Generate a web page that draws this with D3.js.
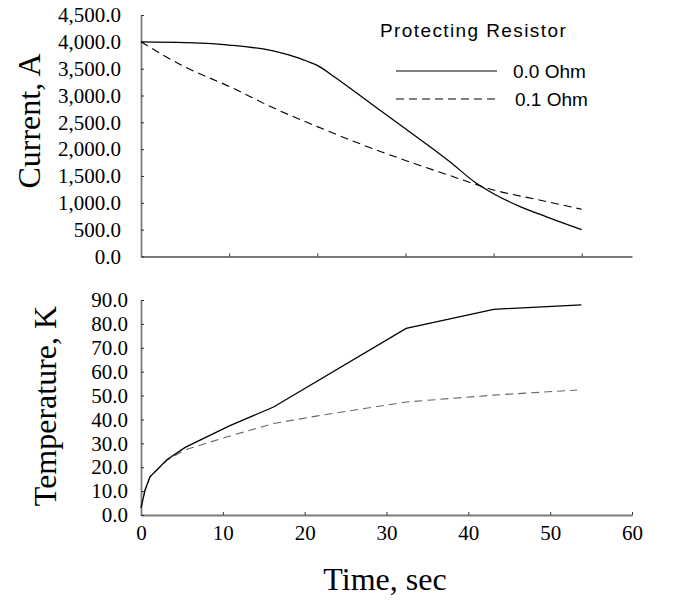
<!DOCTYPE html>
<html>
<head>
<meta charset="utf-8">
<script src="https://cdn.jsdelivr.net/npm/d3@7"></script>
<style>
  body { margin: 0; background: #fff; }
  svg { display: block; }
</style>
</head>
<body>
<script>
// current and temperature vs time, two protecting resistor cases

// top panel: current (A)
const currentTime00 = [0, 5, 10, 15, 18, 20, 22, 25, 30, 35, 38, 40, 43, 46, 50];
const current00 = [4000, 3985, 3940, 3830, 3690, 3560, 3340, 2980, 2380, 1770, 1370, 1170, 930, 740, 500];
const currentTime01 = [0, 5, 10, 15, 20, 25, 30, 35, 40, 45, 50];
const current01 = [4000, 3530, 3170, 2770, 2420, 2090, 1790, 1510, 1240, 1060, 880];

// bottom panel: temperature (K), time read on the bottom axis
const tempTime00 = [0, 0.5, 1.1, 3.2, 5.4, 10.8, 16.2, 32.4, 43.1, 53.8];
const temp00 = [3, 10.5, 16, 23.2, 28.3, 37.3, 45.2, 78.1, 86.1, 88];
const tempTime01 = [0, 0.5, 1.1, 3.2, 5.4, 10.8, 16.2, 21.6, 32.4, 43.1, 53.3];
const temp01 = [3, 10.5, 16, 23, 27.3, 33, 38.3, 41.5, 47.3, 50.2, 52.3];

const currentTicks = d3.range(0, 4501, 500);
const tempTicks = d3.range(0, 91, 10);
const timeTicksTop = [10, 20, 30, 40, 50];
const timeTicksBottom = [0, 10, 20, 30, 40, 50, 60];

const legendTitle = "Protecting Resistor";
const legendLabels = ["0.0 Ohm", "0.1 Ohm"];

const width = 680;
const height = 608;

const svg = d3.select("body")
    .append("svg")
    .attr("width", width)
    .attr("height", height);

const axisColor = "#7a7a7a";
const serif = "'Liberation Serif', 'Times New Roman', serif";
const sans = "'Liberation Sans', Arial, sans-serif";

// scales
const xTop = d3.scaleLinear().domain([0, 55.7]).range([141, 632]);
const yTop = d3.scaleLinear().domain([0, 4500]).range([256.5, 15]);
const xBot = d3.scaleLinear().domain([0, 60]).range([141, 632]);
const yBot = d3.scaleLinear().domain([0, 90]).range([515, 300]);

function styleAxis(g) {
    g.select(".domain").attr("stroke", axisColor).attr("stroke-width", 1.8);
    g.selectAll(".tick line").attr("stroke", "#333").attr("stroke-width", 1);
    g.selectAll("text")
        .attr("fill", "#000")
        .style("font-family", serif)
        .style("font-size", "21px");
}

// top axes
svg.append("g")
    .attr("transform", `translate(0,${yTop(0)})`)
    .call(d3.axisBottom(xTop).tickValues(timeTicksTop).tickSize(-3).tickSizeOuter(0).tickFormat(""))
    .call(styleAxis);

svg.append("g")
    .attr("transform", `translate(${xTop(0)},0)`)
    .call(d3.axisLeft(yTop).tickValues(currentTicks).tickSize(-3).tickSizeOuter(0)
        .tickPadding(20).tickFormat(d3.format(",.1f")))
    .call(styleAxis);

// bottom axes
svg.append("g")
    .attr("transform", `translate(0,${yBot(0)})`)
    .call(d3.axisBottom(xBot).tickValues(timeTicksBottom).tickSize(-3).tickSizeOuter(0)
        .tickPadding(10).tickFormat(d3.format("d")))
    .call(styleAxis);

svg.append("g")
    .attr("transform", `translate(${xBot(0)},0)`)
    .call(d3.axisLeft(yBot).tickValues(tempTicks).tickSize(-3).tickSizeOuter(0)
        .tickPadding(13).tickFormat(d3.format(".1f")))
    .call(styleAxis);

// lines
const lineTop = d3.line().x(d => xTop(d[0])).y(d => yTop(d[1])).curve(d3.curveMonotoneX);
const lineBot = d3.line().x(d => xBot(d[0])).y(d => yBot(d[1]));

svg.append("path")
    .datum(d3.zip(currentTime00, current00))
    .attr("fill", "none")
    .attr("stroke", "#000")
    .attr("stroke-width", 1.3)
    .attr("d", lineTop);

svg.append("path")
    .datum(d3.zip(currentTime01, current01))
    .attr("fill", "none")
    .attr("stroke", "#000")
    .attr("stroke-width", 1.1)
    .attr("stroke-dasharray", "8,5")
    .attr("d", lineTop);

svg.append("path")
    .datum(d3.zip(tempTime01, temp01))
    .attr("fill", "none")
    .attr("stroke", "#666")
    .attr("stroke-width", 1.1)
    .attr("stroke-dasharray", "8,5")
    .attr("d", lineBot);

svg.append("path")
    .datum(d3.zip(tempTime00, temp00))
    .attr("fill", "none")
    .attr("stroke", "#000")
    .attr("stroke-width", 1.3)
    .attr("d", lineBot);

// axis titles
svg.append("text")
    .attr("transform", "translate(40,121) rotate(-90)")
    .attr("text-anchor", "middle")
    .style("font-family", serif)
    .style("font-size", "32px")
    .text("Current, A");

svg.append("text")
    .attr("transform", "translate(56,406) rotate(-90)")
    .attr("text-anchor", "middle")
    .style("font-family", serif)
    .style("font-size", "32px")
    .text("Temperature, K");

svg.append("text")
    .attr("x", 385)
    .attr("y", 590)
    .attr("text-anchor", "middle")
    .style("font-family", serif)
    .style("font-size", "32px")
    .text("Time, sec");

// legend
svg.append("text")
    .attr("x", 380)
    .attr("y", 37)
    .style("font-family", sans)
    .style("font-size", "19px")
    .style("letter-spacing", "1.4px")
    .text(legendTitle);

const legend = svg.append("g");
legendLabels.forEach((label, i) => {
    const y = 71 + i * 28;
    legend.append("line")
        .attr("x1", 396).attr("x2", 497)
        .attr("y1", y).attr("y2", y)
        .attr("stroke", "#000")
        .attr("stroke-width", 1.1)
        .attr("stroke-dasharray", i === 0 ? null : "8,5");
    legend.append("text")
        .attr("x", 513 + i * 2)
        .attr("y", y + 7)
        .style("font-family", sans)
        .style("font-size", "19px")
        .text(label);
});
</script>
</body>
</html>
